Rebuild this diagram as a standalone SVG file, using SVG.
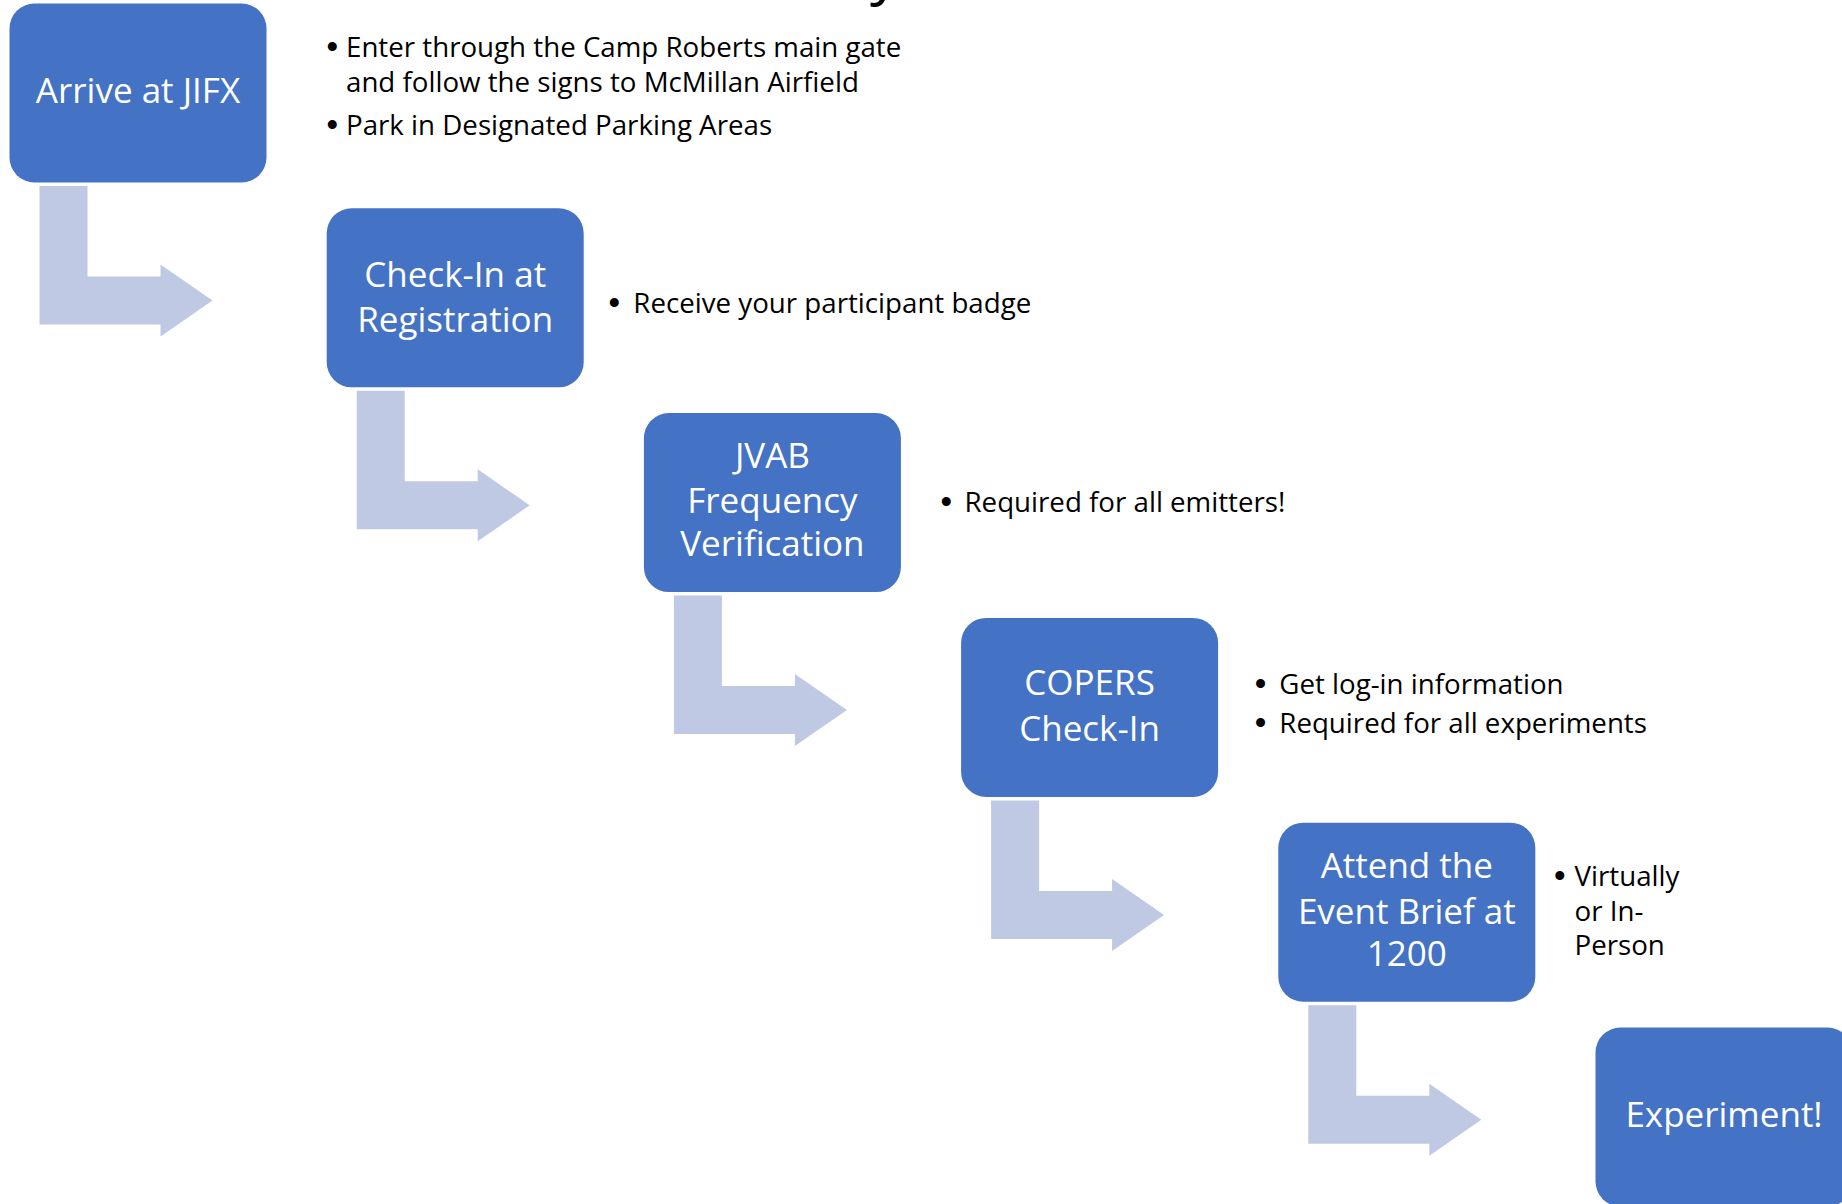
<svg xmlns="http://www.w3.org/2000/svg" xmlns:xlink="http://www.w3.org/1999/xlink" width="1842" height="1204" viewBox="0 0 1842 1204">
  <style>
    .box { fill: #4472C4; }
    .bend { fill: #BFC9E3; }
    .bt { font-family: "Open Sans", "Liberation Sans", sans-serif; font-size: 35px; fill: #FFFFFF; text-anchor: middle; }
    .nt { font-family: "Open Sans", "Liberation Sans", sans-serif; font-size: 27.7px; fill: #000000; }
    .bul { font-family: "Liberation Sans", sans-serif; font-size: 33px; fill: #000000; }
    .title { font-family: "Open Sans", "Liberation Sans", sans-serif; font-size: 60px; fill: #000000; }
  </style>
  <defs>
    <path id="bend" d="M30,3.5 H78 V94 H151 V82 L203,118 L151,154 V142 H30 Z"/>
  </defs>
  <rect width="1842" height="1204" fill="#FFFFFF"/>
  <text class="title" x="870" y="-7">y</text>

  <g id="connectors" class="bend">
    <use xlink:href="#bend" x="9.5" y="182.5"/>
    <use xlink:href="#bend" x="326.7" y="387.3"/>
    <use xlink:href="#bend" x="643.9" y="592.1"/>
    <use xlink:href="#bend" x="961.1" y="796.9"/>
    <use xlink:href="#bend" x="1278.3" y="1001.7"/>
  </g>

  <g id="node-arrive">
    <rect class="box" x="9.5" y="3.5" width="257" height="179" rx="25"/>
    <text class="bt" x="138" y="103.3">Arrive at JIFX</text>
  </g>
  <g id="notes-arrive">
    <text class="bul" x="326.5" y="58.3">•</text>
    <text class="nt" x="346" y="57.3">Enter through the Camp Roberts main gate</text>
    <text class="nt" x="346" y="91.7">and follow the signs to McMillan Airfield</text>
    <text class="bul" x="326.5" y="136">•</text>
    <text class="nt" x="346" y="135">Park in Designated Parking Areas</text>
  </g>

  <g id="node-checkin">
    <rect class="box" x="326.7" y="208.3" width="257" height="179" rx="25"/>
    <text class="bt" x="455.2" y="286.7">Check-In at</text>
    <text class="bt" x="455.2" y="332.3">Registration</text>
  </g>
  <g id="notes-checkin">
    <text class="bul" x="608.5" y="314.3">•</text>
    <text class="nt" x="633.3" y="313.3">Receive your participant badge</text>
  </g>

  <g id="node-jvab">
    <rect class="box" x="643.9" y="413.1" width="257" height="179" rx="25"/>
    <text class="bt" x="772.4" y="468.3">JVAB</text>
    <text class="bt" x="772.4" y="513.3">Frequency</text>
    <text class="bt" x="772.4" y="556">Verification</text>
  </g>
  <g id="notes-jvab">
    <text class="bul" x="940.5" y="512.7">•</text>
    <text class="nt" x="964.5" y="511.7">Required for all emitters!</text>
  </g>

  <g id="node-copers">
    <rect class="box" x="961.1" y="617.9" width="257" height="179" rx="25"/>
    <text class="bt" x="1089.6" y="695">COPERS</text>
    <text class="bt" x="1089.6" y="740.7">Check-In</text>
  </g>
  <g id="notes-copers">
    <text class="bul" x="1254.8" y="695">•</text>
    <text class="nt" x="1279.3" y="694">Get log-in information</text>
    <text class="bul" x="1254.8" y="733.7">•</text>
    <text class="nt" x="1279.3" y="732.7">Required for all experiments</text>
  </g>

  <g id="node-brief">
    <rect class="box" x="1278.3" y="822.7" width="257" height="179" rx="25"/>
    <text class="bt" x="1406.8" y="878.3">Attend the</text>
    <text class="bt" x="1406.8" y="924">Event Brief at</text>
    <text class="bt" x="1406.8" y="965.7">1200</text>
  </g>
  <g id="notes-brief">
    <text class="bul" x="1554" y="887">•</text>
    <text class="nt" x="1574.5" y="886">Virtually</text>
    <text class="nt" x="1574.5" y="920.5">or In-</text>
    <text class="nt" x="1574.5" y="955">Person</text>
  </g>

  <g id="node-experiment">
    <rect class="box" x="1595.5" y="1027.5" width="257" height="179" rx="25"/>
    <text class="bt" x="1724" y="1126.7">Experiment!</text>
  </g>
</svg>
